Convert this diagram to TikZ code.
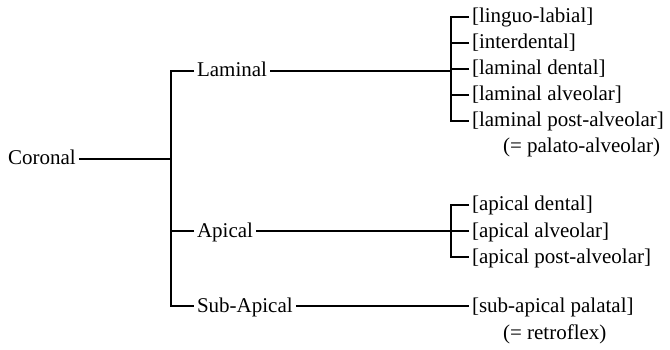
\documentclass[tikz,border=0pt]{standalone}
\usepackage{fontspec}
\setmainfont{Liberation Serif}
\usepackage{tikz}
\usetikzlibrary{positioning,calc}

\begin{document}
\begin{tikzpicture}[x=1pt,y=-1pt,line width=1.1pt,
  lbl/.style={anchor=west,inner xsep=2.5pt,inner ysep=0pt,text height=15pt,text depth=3pt,
    font=\fontsize{21}{25}\selectfont}]
\useasboundingbox (0,0) rectangle (670,350);
\node[lbl] (cor) at (5,159) {Coronal};
\node[lbl] (lam) at (194,71) {Laminal};
\node[lbl] (api) at (194,231) {Apical};
\node[lbl] (sub) at (194,306) {Sub-Apical};
\node[lbl] (ll) at (469,17) {[linguo-labial]};
\node[lbl] (id) at (469,43) {[interdental]};
\node[lbl] (ld) at (469,69) {[laminal dental]};
\node[lbl] (la) at (469,95) {[laminal alveolar]};
\node[lbl] (lp) at (469,121) {[laminal post-alveolar]};
\node[lbl] (pa) at (500,147) {(= palato-alveolar)};
\node[lbl] (ad) at (469,205) {[apical dental]};
\node[lbl] (aa) at (469,231) {[apical alveolar]};
\node[lbl] (ap) at (469,257) {[apical post-alveolar]};
\node[lbl] (sp) at (469,306) {[sub-apical palatal]};
\node[lbl] (rf) at (500,333) {(= retroflex)};
\coordinate (cb) at (171,159);
\coordinate (lb) at (451,71);
\coordinate (ab) at (451,231);
\draw (cor) -- (cb);
\draw (lam.west) -| (cb) |- (sub.west);
\draw (api.west) -- (api.west -| cb);
\draw (lam) -- (lb);
\draw (ll.west) -| (lb) |- (lp.west);
\foreach \n in {id,ld,la} \draw (\n.west) -- (\n.west -| lb);
\draw (api) -- (ab);
\draw (ad.west) -| (ab) |- (ap.west);
\draw (aa.west) -- (ab);
\draw (sub) -- (sp);
\end{tikzpicture}
\end{document}
